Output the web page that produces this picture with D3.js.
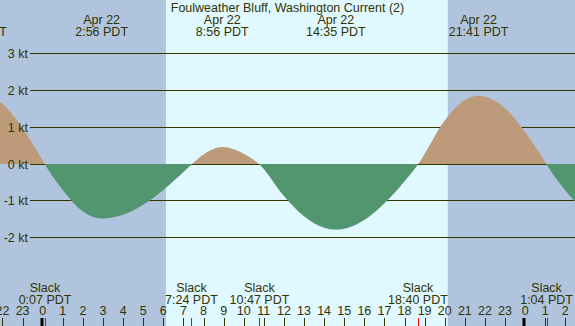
<!DOCTYPE html>
<html><head><meta charset="utf-8">
<script src="https://cdn.jsdelivr.net/npm/d3@7"></script>
<style>
html,body{margin:0;padding:0;background:#fff;}
svg{display:block;font-family:"Liberation Sans",Arial,sans-serif;}
</style></head>
<body><svg id="c" width="575" height="326"></svg>
<script>
// Data (hours relative to midnight Apr 22; values in knots)
const hours = [-3.27,-3,-2,-1,0,0.117,1,2,2.933,4,5,6,7,7.4,8,8.933,10,10.783,12,13,14,14.583,16,17,18,18.667,20,21,21.683,23,24,25,25.067,26,27];
const knots = [1.95,1.93,1.64,0.98,0.11,0,-0.69,-1.27,-1.46,-1.36,-1.09,-0.69,-0.20,0,0.27,0.47,0.29,0,-0.85,-1.40,-1.71,-1.76,-1.50,-1.05,-0.45,0,1.19,1.74,1.86,1.52,0.88,0.06,0,-0.70,-1.28];
const extremeHours = [-3.27, 2.933, 8.933, 14.583, 21.683];
const extremeDates = ["Apr 21", "Apr 22", "Apr 22", "Apr 22", "Apr 22"];
const extremeTimes = ["20:44 PDT", "2:56 PDT", "8:56 PDT", "14:35 PDT", "21:41 PDT"];
const slackHours = [0.117, 7.4, 10.783, 18.667, 25.067];
const slackTimes = ["0:07 PDT", "7:24 PDT", "10:47 PDT", "18:40 PDT", "1:04 PDT"];
const yTicks = [3, 2, 1, 0, -1, -2];
const hourTicks = d3.range(-2, 27);
const sunrise = 6.13, sunset = 20.15;
const title = "Foulweather Bluff, Washington Current (2)";

const W = 575, H = 326;
const svg = d3.select("#c");
const x = d3.scaleLinear().domain([-2.124, 26.48]).range([0, W]);
const y = d3.scaleLinear().domain([0, 3]).range([164.5, 53.5]);
const txt = "#333300";

// backgrounds
svg.append("rect").attr("x", 0).attr("y", 0).attr("width", W).attr("height", H).attr("fill", "#b0c4de");
svg.append("rect").attr("x", x(sunrise)).attr("y", 0).attr("width", x(sunset) - x(sunrise)).attr("height", H).attr("fill", "#e0f8ff");

// grid lines
yTicks.forEach(v => {
  svg.append("line").attr("x1", 30).attr("x2", W).attr("y1", Math.round(y(v)) - 0.5).attr("y2", Math.round(y(v)) - 0.5)
    .attr("stroke", txt).attr("stroke-width", 1);
});

const pts = hours.map((h, i) => [h, knots[i]]);
const zeroY = Math.round(y(0)) - 1;
const defs = svg.append("defs");
defs.append("clipPath").attr("id", "pos").append("rect").attr("x", 0).attr("y", 0).attr("width", W).attr("height", zeroY);
defs.append("clipPath").attr("id", "neg").append("rect").attr("x", 0).attr("y", zeroY).attr("width", W).attr("height", H - zeroY);
const area = d3.area().x(d => x(d[0])).y0(zeroY).y1(d => y(d[1])).curve(d3.curveMonotoneX);
svg.append("path").datum(pts).attr("d", area).attr("fill", "#bd9a7a").attr("clip-path", "url(#pos)");
svg.append("path").datum(pts).attr("d", area).attr("fill", "#529670").attr("clip-path", "url(#neg)");

// y labels (drawn above fills)
yTicks.forEach(v => {
  svg.append("text").attr("x", 28).attr("y", Math.round(y(v)) + 4).attr("text-anchor", "end")
    .attr("font-size", "12.5px").attr("fill", txt).text(v + " kt");
});

// title
svg.append("text").attr("x", W / 2).attr("y", 12).attr("text-anchor", "middle").attr("font-size", "12.5px").attr("fill", txt).text(title);

// extreme labels
extremeHours.forEach((h, i) => {
  svg.append("text").attr("x", x(h)).attr("y", 24).attr("text-anchor", "middle").attr("font-size", "12.5px").attr("fill", txt).text(extremeDates[i]);
  svg.append("text").attr("x", x(h)).attr("y", 36).attr("text-anchor", "middle").attr("font-size", "12.5px").attr("fill", txt).text(extremeTimes[i]);
});

// slack labels
slackHours.forEach((h, i) => {
  svg.append("text").attr("x", x(h)).attr("y", 292).attr("text-anchor", "middle").attr("font-size", "12.5px").attr("fill", txt).text("Slack");
  svg.append("text").attr("x", x(h)).attr("y", 304).attr("text-anchor", "middle").attr("font-size", "12.5px").attr("fill", txt).text(slackTimes[i]);
});

// hour ticks
hourTicks.forEach(h => {
  const hx = Math.round(x(h));
  const mid = ((h % 24) + 24) % 24 === 0;
  svg.append("text").attr("x", x(h)).attr("y", 315).attr("text-anchor", "middle").attr("font-size", "12.5px").attr("fill", txt)
    .text(((h % 24) + 24) % 24);
  svg.append("line").attr("x1", mid ? hx - 1 : hx + 0.5).attr("x2", mid ? hx - 1 : hx + 0.5).attr("y1", 318).attr("y2", H)
    .attr("stroke", mid ? "#000" : txt).attr("stroke-width", mid ? 3 : 1);
});
slackHours.forEach(h => {
  const hx = Math.round(x(h)) + 0.5;
  svg.append("line").attr("x1", hx).attr("x2", hx).attr("y1", 318).attr("y2", H).attr("stroke", "#ff0000").attr("stroke-width", 1);
});
</script></body></html>
